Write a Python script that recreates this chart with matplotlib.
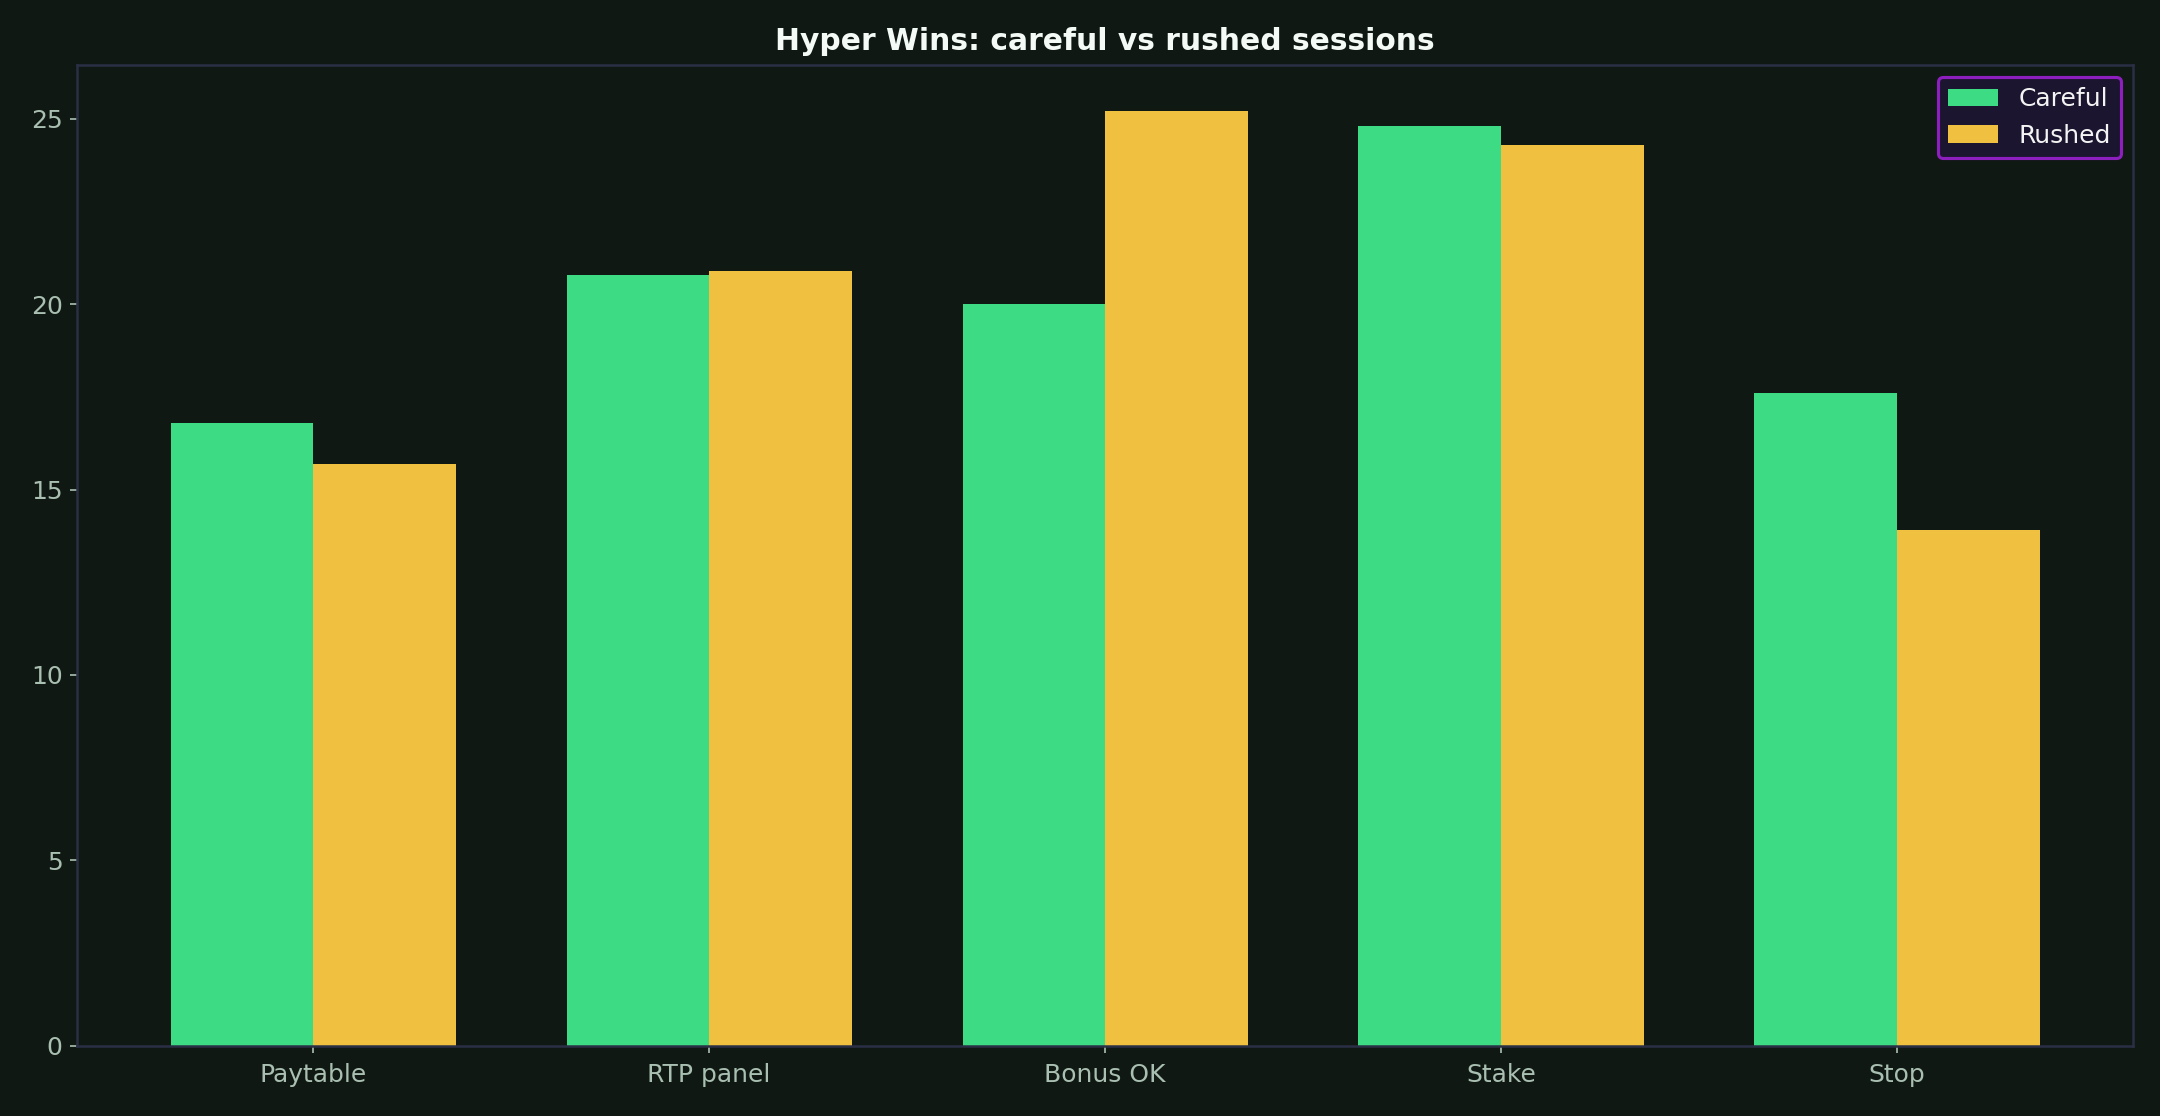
import matplotlib
matplotlib.use("Agg")
import matplotlib.pyplot as plt
import numpy as np

categories = ["Paytable", "RTP panel", "Bonus OK", "Stake", "Stop"]
careful = [16.8, 20.8, 20.0, 24.8, 17.6]
rushed = [15.7, 20.9, 25.2, 24.3, 13.9]

BG = "#0f1813"
GREEN = "#3ddc84"
YELLOW = "#f0c040"
SPINE = "#2a2f45"
TICK = "#a9bfb1"

fig, ax = plt.subplots(figsize=(14.4, 7.44), dpi=150)
fig.patch.set_facecolor(BG)
ax.set_facecolor(BG)

x = np.arange(len(categories))
w = 0.36
ax.bar(x - w / 2, careful, w, color=GREEN, label="Careful")
ax.bar(x + w / 2, rushed, w, color=YELLOW, label="Rushed")

ax.set_xticks(x)
ax.set_xticklabels(categories)
ax.tick_params(colors=TICK, labelsize=12)
ax.tick_params(axis="x", pad=5)
for s in ax.spines.values():
    s.set_color(SPINE)
    s.set_linewidth(1.2)

ax.set_title("Hyper Wins: careful vs rushed sessions", color="#f4fbf6",
             fontsize=14.3, fontweight="bold", pad=7)

leg = ax.legend(loc="upper right", fontsize=12, facecolor="#1b1530",
                edgecolor="#8e1fbf", framealpha=1.0)
leg.get_frame().set_linewidth(1.5)
for t in leg.get_texts():
    t.set_color("#f4f4f4")

plt.subplots_adjust(left=0.0357, right=0.9875, top=0.942, bottom=0.063)
fig.savefig("out.png", dpi=150, facecolor=BG)
